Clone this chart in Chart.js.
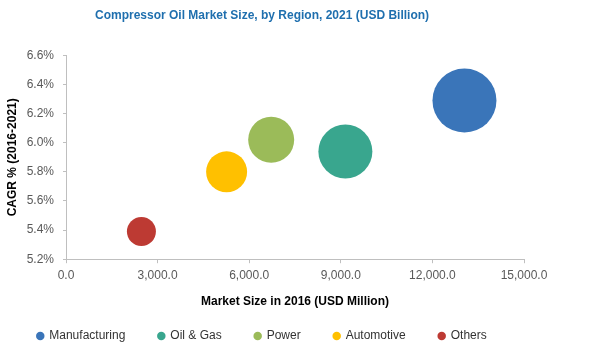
<!DOCTYPE html>
<html>
<head>
<meta charset="utf-8">
<script src="https://cdn.jsdelivr.net/npm/chart.js@4/dist/chart.umd.min.js"></script>
<style>
  html, body { margin:0; padding:0; background:#fff; }
  #wrap { width:600px; height:353px; }
</style>
</head>
<body>
<div id="wrap"><canvas id="bubbleChart"></canvas></div>
<script>
// segments and their values
const segments = ["Manufacturing", "Oil & Gas", "Power", "Automotive", "Others"];
const marketSize2016 = [13050, 9150, 6720, 5260, 2470];   // USD million (x)
const cagr = [6.29, 5.94, 6.02, 5.80, 5.39];               // % (y)
const bubbleRadius = [32, 27, 23, 20.5, 14.5];              // bubble size
const segmentColors = ['#3a75b9', '#39a68e', '#9bbb59', '#ffc000', '#bd3a33'];

const xTicks = [0, 3000, 6000, 9000, 12000, 15000];
const yTicks = [5.2, 5.4, 5.6, 5.8, 6.0, 6.2, 6.4, 6.6];

const axisColor = '#bfbfbf';
const tickColor = '#595959';

const datasets = segments.map((s, i) => ({
  label: s,
  data: [{ x: marketSize2016[i], y: cagr[i], r: bubbleRadius[i] }],
  backgroundColor: segmentColors[i],
  borderColor: segmentColors[i],
  borderWidth: 0,
  hoverBorderWidth: 0,
  clip: false
}));

/* legend text sits "padding" px below the legend top; lift it so the
   wide horizontal spacing doesn't push the x axis title up
   (only top moves, bottom stays so the legend clip box isn't cut) */
const legendLift = {
  id: 'legendLift',
  afterLayout(chart){
    chart.legend.top -= 12;
  }
};

const ctx = document.getElementById('bubbleChart').getContext('2d');
new Chart(ctx, {
  type: 'bubble',
  data: { datasets },
  plugins: [legendLift],
  options: {
    responsive: true,
    maintainAspectRatio: false,
    animation: false,
    layout: { padding: { left: 0, right: 76, top: 0, bottom: 0 } },
    plugins: {
      title: {
        display: true,
        text: 'Compressor Oil Market Size, by Region, 2021 (USD Billion)',
        color: '#1f6fae',
        font: { family: 'Liberation Sans', size: 12, weight: 'bold' },
        padding: { top: 8, bottom: 33 }
      },
      legend: {
        position: 'bottom',
        maxHeight: 44,
        labels: {
          usePointStyle: true,
          pointStyle: 'circle',
          boxWidth: 6,
          boxHeight: 6,
          padding: 33,
          color: '#333',
          font: { family: 'Liberation Sans', size: 12 }
        }
      },
      tooltip: { enabled: false }
    },
    scales: {
      x: {
        type: 'linear',
        min: xTicks[0],
        max: xTicks[xTicks.length - 1],
        afterBuildTicks: axis => { axis.ticks = xTicks.map(v => ({ value: v })); },
        ticks: {
          color: tickColor,
          font: { family: 'Liberation Sans', size: 12 },
          padding: 5,
          maxRotation: 0,
          callback: v => v.toLocaleString('en-US', { minimumFractionDigits: 1, maximumFractionDigits: 1 })
        },
        grid: { display: true, drawOnChartArea: false, color: axisColor, tickLength: 4 },
        border: { color: axisColor },
        title: {
          display: true,
          text: 'Market Size in 2016 (USD Million)',
          color: '#000',
          font: { family: 'Liberation Sans', size: 12, weight: 'bold' },
          padding: { top: 7, bottom: 0 }
        }
      },
      y: {
        type: 'linear',
        min: yTicks[0],
        max: yTicks[yTicks.length - 1],
        afterBuildTicks: axis => { axis.ticks = yTicks.map(v => ({ value: v })); },
        afterFit: axis => { axis.width = 66; },
        ticks: {
          color: tickColor,
          font: { family: 'Liberation Sans', size: 12 },
          padding: 9,
          callback: v => v.toFixed(1) + '%'
        },
        grid: { display: true, drawOnChartArea: false, color: axisColor, tickLength: 3 },
        border: { color: axisColor },
        title: {
          display: true,
          text: 'CAGR % (2016-2021)',
          color: '#000',
          font: { family: 'Liberation Sans', size: 12, weight: 'bold' },
          padding: { top: 5, bottom: 4 }
        }
      }
    }
  }
});
</script>
</body>
</html>
